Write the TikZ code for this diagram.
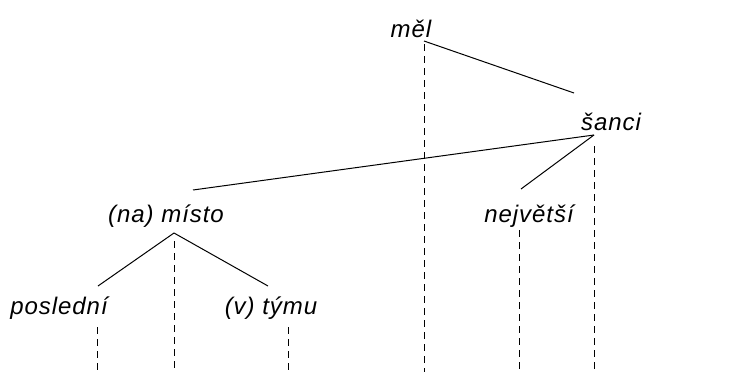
\documentclass[tikz,border=0pt]{standalone}
\usepackage{fontspec}
\setmainfont{Liberation Sans}[LetterSpace=4]
\begin{document}
\begin{tikzpicture}[x=1pt,y=-1pt,
  word/.style={anchor=base,inner sep=0pt,font=\fontsize{24}{28}\selectfont\itshape},
  tie/.style={line width=1pt},
  proj/.style={line width=1pt,dash pattern=on 7pt off 5pt}]
\useasboundingbox[fill=white] (0,0) rectangle (737,372);
% words
\node[word] (mel) at (411,37) {měl};
\node[word] (sanci) at (611,130) {šanci};
\node[word] (misto) at (166,222) {(na) místo};
\node[word] (nejvetsi) at (529,222) {největší};
\node[word] (posledni) at (59,314) {poslední};
\node[word] (tymu) at (271,314) {(v) týmu};
% junction points
\coordinate (melJ) at (424,41);
\coordinate (melE) at (574,93);
\coordinate (sanciJ) at (594,135);
\coordinate (sanciE1) at (193,190);
\coordinate (sanciE2) at (521,189);
\coordinate (mistoJ) at (174,233);
\coordinate (mistoE1) at (98,286);
\coordinate (mistoE2) at (268,286);
% projection points
\coordinate (melP) at (424,44);
\coordinate (melB) at (424,372);
\coordinate (sanciP) at (594,146);
\coordinate (sanciB) at (594,372);
\coordinate (mistoP) at (174,241);
\coordinate (mistoB) at (174,372);
\coordinate (nejP) at (519,230);
\coordinate (nejB) at (519,372);
\coordinate (posP) at (97,327);
\coordinate (posB) at (97,372);
\coordinate (tymP) at (288,327);
\coordinate (tymB) at (288,372);
% dependency edges
\draw[tie] (melJ) -- (melE);
\draw[tie] (sanciJ) -- (sanciE1);
\draw[tie] (sanciJ) -- (sanciE2);
\draw[tie] (mistoJ) -- (mistoE1);
\draw[tie] (mistoJ) -- (mistoE2);
% projections
\draw[proj] (melP) -- (melB);
\draw[proj] (sanciP) -- (sanciB);
\draw[proj] (mistoP) -- (mistoB);
\draw[proj] (nejP) -- (nejB);
\draw[proj] (posP) -- (posB);
\draw[proj] (tymP) -- (tymB);
\end{tikzpicture}
\end{document}
